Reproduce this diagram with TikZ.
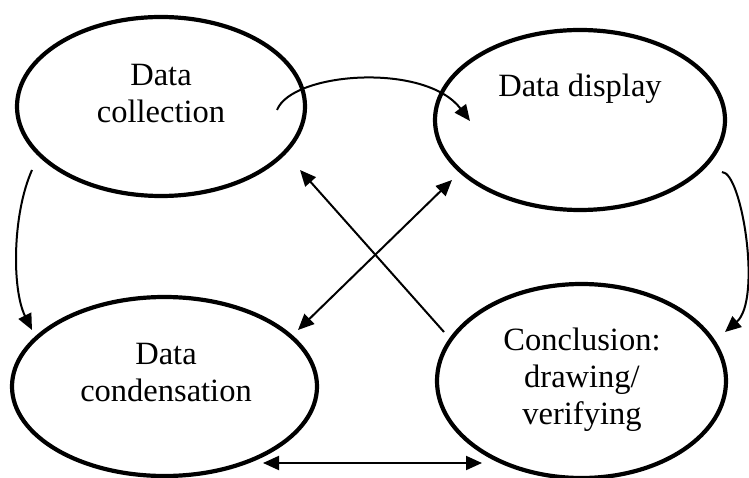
\documentclass[tikz,border=0pt]{standalone}
\usepackage{fontspec}
\setmainfont{Liberation Serif}
\usetikzlibrary{shapes.geometric,arrows.meta}
\begin{document}
\begin{tikzpicture}[x=1pt,y=-1pt,
  oval/.style={ellipse,draw,line width=4.2pt,inner sep=0pt,outer sep=0pt},
  lbl/.style={align=center,font=\fontsize{32.5}{37}\selectfont,inner sep=0pt},
  conn/.style={line width=2pt,-{Triangle[length=16pt,width=14pt]}},
  conntwo/.style={line width=2pt,{Triangle[length=16pt,width=14pt]}-{Triangle[length=16pt,width=14pt]}}]
\useasboundingbox (0,0) rectangle (749,478);
% ovals
\node[oval,minimum width=288pt,minimum height=179pt] (c1) at (161,106.5) {};
\node[oval,minimum width=290pt,minimum height=180pt] (c2) at (580,120) {};
\node[oval,minimum width=305pt,minimum height=179pt] (c3) at (164.5,386.5) {};
\node[oval,minimum width=289pt,minimum height=194pt] (c4) at (581.5,381) {};
% labels
\node[lbl] (t1) at (161,94) {Data\\collection};
\node[lbl,anchor=base] (t2) at (580,97) {Data display};
\node[lbl] (t3) at (166,373) {Data\\condensation};
\node[lbl] (t4) at (582,380) {Conclusion:\\drawing/\\verifying};
% connector end points
\coordinate (a1s) at (277,110);
\coordinate (a1e) at (470,121);
\coordinate (a2s) at (32,170);
\coordinate (a2e) at (32,330);
\coordinate (a3s) at (722,172);
\coordinate (a3e) at (725,332);
\coordinate (a4s) at (444,332);
\coordinate (a4e) at (300,170);
\coordinate (a5s) at (452,180);
\coordinate (a5e) at (298,330);
\coordinate (a6s) at (263,463);
\coordinate (a6e) at (482,463);
% connectors
\draw[conn] (a1s) .. controls (292,72) and (425,62) .. (a1e);
\draw[conn] (a2s) .. controls (12,215) and (12,290) .. (a2e);
\draw[conn] (a3s) .. controls (742,172) and (762,300) .. (a3e);
\draw[conn] (a4s) -- (a4e);
\draw[conntwo] (a5s) -- (a5e);
\draw[conntwo] (a6s) -- (a6e);
\end{tikzpicture}
\end{document}
